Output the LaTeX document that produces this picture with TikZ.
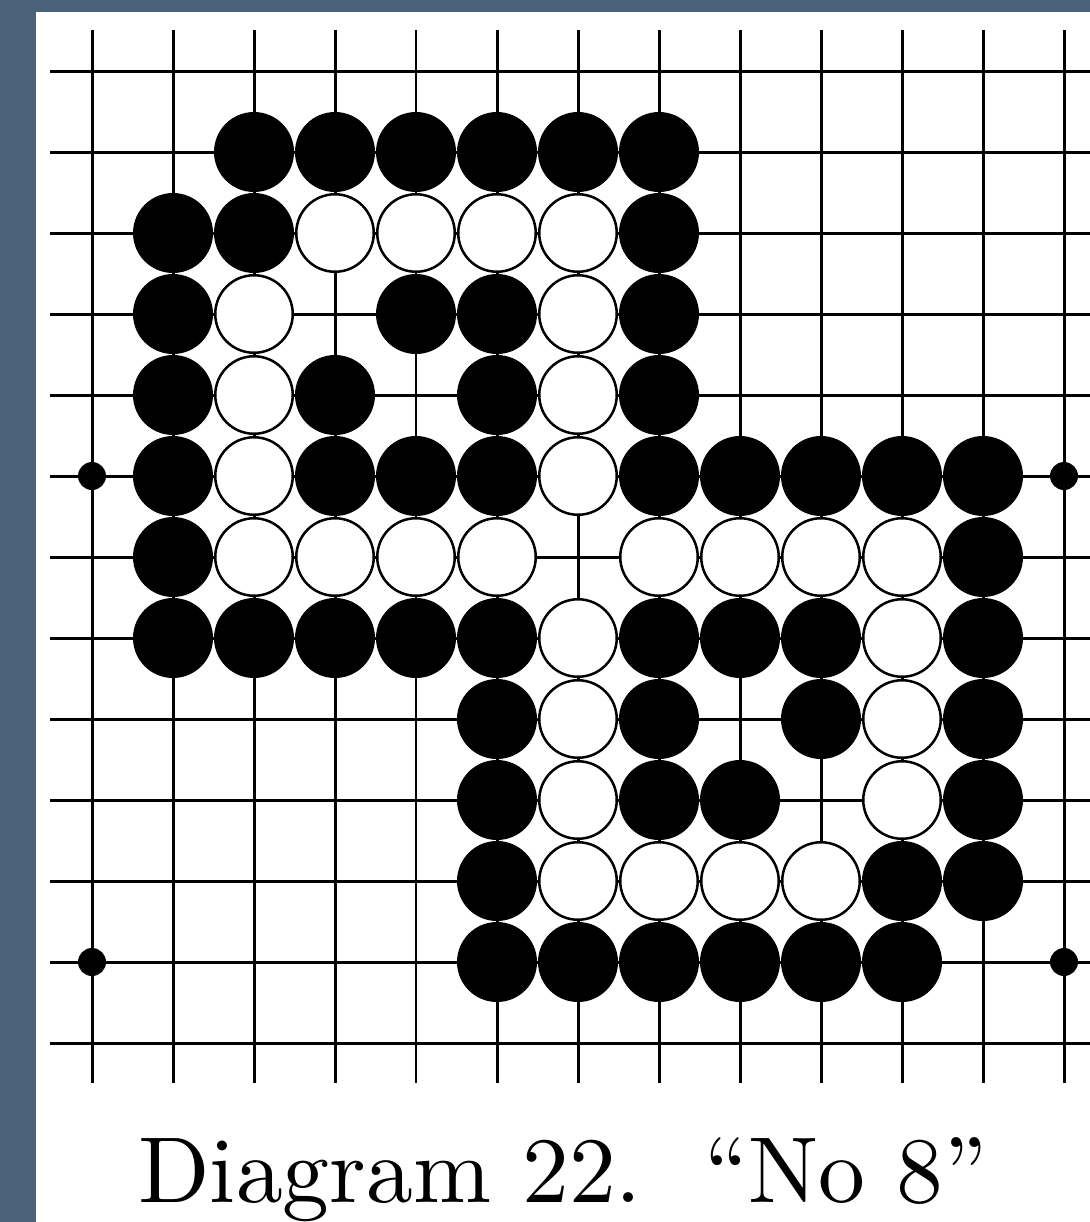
\documentclass[tikz,border=0pt]{standalone}
\usepackage{fontspec}
\newfontfamily\capfont{lmroman10-regular.otf}
\definecolor{framecol}{RGB}{75,96,121}
\begin{document}
\begin{tikzpicture}[x=0.5pt,y=-0.5pt,
  gridline/.style={line width=1.5pt, black},
  thingrid/.style={line width=0.8pt, black},
  bstone/.style={circle, fill=black, minimum size=40pt, inner sep=0pt},
  wstone/.style={circle, fill=white, draw=black, line width=1.25pt, minimum size=38.75pt, inner sep=0pt},
  starpt/.style={circle, fill=black, minimum size=14pt, inner sep=0pt},
  caption/.style={inner sep=0pt, anchor=base, font=\capfont\fontsize{46.8}{56}\selectfont}]
\useasboundingbox (0,0) rectangle (1090,1222);
\fill[framecol] (0,0) rectangle (1090,1222);
\fill[white] (36,12) rectangle (1090,1222);
% grid
\foreach \r in {0,...,12}
  \draw[gridline] (50,{71+81*\r}) -- (1090,{71+81*\r});
\foreach \c in {0,1,2,3,5,6,7,8,9,10,11,12}
  \draw[gridline] ({92+81*\c},30) -- ({92+81*\c},1083);
\draw[thingrid] (416,30) -- (416,1083);
% star points
\foreach \c/\r in {0/5,12/5,0/11,12/11}
  \node[starpt] (s-\c-\r) at ({92+81*\c},{71+81*\r}) {};
% black stones
\foreach \c/\r in {2/1,3/1,4/1,5/1,6/1,7/1,
  1/2,2/2,7/2,
  1/3,4/3,5/3,7/3,
  1/4,3/4,5/4,7/4,
  1/5,3/5,4/5,5/5,7/5,8/5,9/5,10/5,11/5,
  1/6,11/6,
  1/7,2/7,3/7,4/7,5/7,7/7,8/7,9/7,11/7,
  5/8,7/8,9/8,11/8,
  5/9,7/9,8/9,11/9,
  5/10,10/10,11/10,
  5/11,6/11,7/11,8/11,9/11,10/11}
  \node[bstone] (b-\c-\r) at ({92+81*\c},{71+81*\r}) {};
% white stones
\foreach \c/\r in {3/2,4/2,5/2,6/2,
  2/3,6/3,
  2/4,6/4,
  2/5,6/5,
  2/6,3/6,4/6,5/6,7/6,8/6,9/6,10/6,
  6/7,10/7,
  6/8,10/8,
  6/9,10/9,
  6/10,7/10,8/10,9/10}
  \node[wstone] (w-\c-\r) at ({92+81*\c},{71+81*\r}) {};
% caption
\node[caption] (cap) at (563,1202) {Diagram 22.\ \ “No 8”};
\end{tikzpicture}
\end{document}
